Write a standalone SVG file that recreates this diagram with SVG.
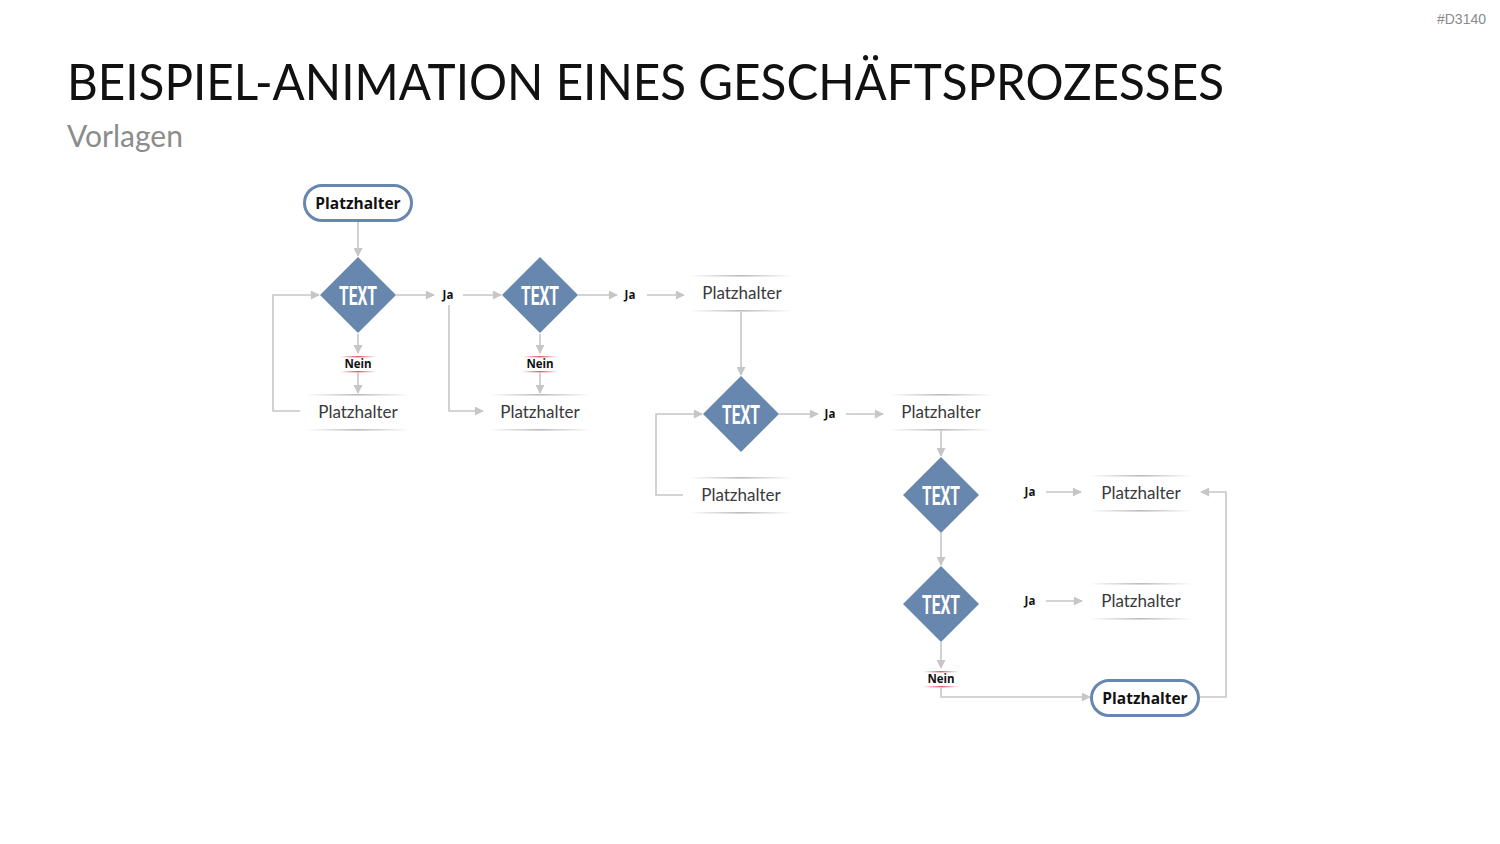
<svg xmlns="http://www.w3.org/2000/svg" width="1500" height="844" viewBox="0 0 1500 844">
<defs>
<style>
.title{font-family:Lato,"Liberation Sans",sans-serif;font-size:50px;fill:#111}
.sub{font-family:Lato,"Liberation Sans",sans-serif;font-size:30px;fill:#8c8c8c}
.ph{font-family:Lato,"Liberation Sans",sans-serif;font-size:17px;fill:#3a3a3a;text-anchor:middle}
.phb{font-family:"Open Sans","Liberation Sans",sans-serif;font-size:15.5px;font-weight:bold;fill:#111;text-anchor:middle}
.dia{fill:#6787ae}
.dt{font-family:Roboto,"Liberation Sans",sans-serif;font-size:25px;font-weight:bold;fill:#fff;text-anchor:middle}
.lbl{font-family:"Open Sans","Liberation Sans",sans-serif;font-size:11.5px;font-weight:bold;fill:#111;text-anchor:middle}
.c{fill:none;stroke:#c6c6c6;stroke-width:1.6}
.box{fill:#fff;stroke:#6787ae;stroke-width:3}
</style>
<marker id="ah" viewBox="0 0 10 10" refX="9" refY="5" markerWidth="10" markerHeight="9" markerUnits="userSpaceOnUse" orient="auto">
<path d="M0,0 L10,5 L0,10 z" fill="#c6c6c6"/>
</marker>
<linearGradient id="gl" x1="0" x2="1" y1="0" y2="0">
<stop offset="0" stop-color="#bbb" stop-opacity="0"/>
<stop offset="0.5" stop-color="#bbb" stop-opacity="1"/>
<stop offset="1" stop-color="#bbb" stop-opacity="0"/>
</linearGradient>
<linearGradient id="rl" x1="0" x2="1" y1="0" y2="0">
<stop offset="0" stop-color="#e05a6a" stop-opacity="0"/>
<stop offset="0.5" stop-color="#e05a6a" stop-opacity="1"/>
<stop offset="1" stop-color="#e05a6a" stop-opacity="0"/>
</linearGradient>
<g id="phlines">
<rect x="-52" y="-18" width="104" height="1.6" fill="url(#gl)"/>
<rect x="-52" y="17" width="104" height="1.6" fill="url(#gl)"/>
</g>
<g id="neinlines">
<rect x="-18" y="-8" width="36" height="1.4" fill="url(#rl)"/>
<rect x="-18" y="7" width="36" height="1.4" fill="url(#rl)"/>
</g>
<path id="dshape" d="M0,-38 L38,0 L0,38 L-38,0 z"/>
</defs>
<rect width="1500" height="844" fill="#fff"/>
<text x="1486" y="24" text-anchor="end" font-family="'Liberation Sans',sans-serif" font-size="14" fill="#8a8a8a">#D3140</text>
<text class="title" x="67" y="100" textLength="1157" lengthAdjust="spacingAndGlyphs">BEISPIEL-ANIMATION EINES GESCHÄFTSPROZESSES</text>
<text class="sub" x="67" y="147">Vorlagen</text>

<g id="connectors">
<path class="c" d="M358,222 V256" marker-end="url(#ah)"/>
<path class="c" d="M396,295 H434" marker-end="url(#ah)"/>
<path class="c" d="M463,295 H501" marker-end="url(#ah)"/>
<path class="c" d="M578,295 H617" marker-end="url(#ah)"/>
<path class="c" d="M647,295 H684" marker-end="url(#ah)"/>
<path class="c" d="M358,334 V353" marker-end="url(#ah)"/>
<path class="c" d="M358,373 V393" marker-end="url(#ah)"/>
<path class="c" d="M540,334 V353" marker-end="url(#ah)"/>
<path class="c" d="M540,373 V393" marker-end="url(#ah)"/>
<path class="c" d="M300,411 H273 V295 H319" marker-end="url(#ah)"/>
<path class="c" d="M449,305 V411 H483" marker-end="url(#ah)"/>
<path class="c" d="M741,312 V375" marker-end="url(#ah)"/>
<path class="c" d="M779,414 H818" marker-end="url(#ah)"/>
<path class="c" d="M846,414 H883" marker-end="url(#ah)"/>
<path class="c" d="M683,495 H656 V414 H702" marker-end="url(#ah)"/>
<path class="c" d="M941,431 V456" marker-end="url(#ah)"/>
<path class="c" d="M1046,492 H1081" marker-end="url(#ah)"/>
<path class="c" d="M941,533 V565" marker-end="url(#ah)"/>
<path class="c" d="M1046,601 H1082" marker-end="url(#ah)"/>
<path class="c" d="M941,642 V668" marker-end="url(#ah)"/>
<path class="c" d="M941,688 V697 H1090" marker-end="url(#ah)"/>
<path class="c" d="M1200,697 H1226 V492 H1201" marker-end="url(#ah)"/>
</g>

<g id="start">
<rect class="box" x="304.5" y="185.5" width="107" height="35" rx="17.5"/>
<text class="phb" x="358" y="209">Platzhalter</text>
</g>

<g id="d1"><use href="#dshape" x="358" y="295" class="dia"/><text class="dt" x="358" y="305" textLength="38" lengthAdjust="spacingAndGlyphs">TEXT</text></g>
<g id="d2"><use href="#dshape" x="540" y="295" class="dia"/><text class="dt" x="540" y="305" textLength="38" lengthAdjust="spacingAndGlyphs">TEXT</text></g>
<g id="d3"><use href="#dshape" x="741" y="414" class="dia"/><text class="dt" x="741" y="424" textLength="38" lengthAdjust="spacingAndGlyphs">TEXT</text></g>
<g id="d4"><use href="#dshape" x="941" y="495" class="dia"/><text class="dt" x="941" y="505" textLength="38" lengthAdjust="spacingAndGlyphs">TEXT</text></g>
<g id="d5"><use href="#dshape" x="941" y="604" class="dia"/><text class="dt" x="941" y="614" textLength="38" lengthAdjust="spacingAndGlyphs">TEXT</text></g>

<g id="ja1"><text class="lbl" x="448" y="299">Ja</text></g>
<g id="ja2"><text class="lbl" x="630" y="299">Ja</text></g>
<g id="ja3"><text class="lbl" x="830" y="418">Ja</text></g>
<g id="ja4"><text class="lbl" x="1030" y="496">Ja</text></g>
<g id="ja5"><text class="lbl" x="1030" y="605">Ja</text></g>

<g id="nein1"><use href="#neinlines" x="358" y="364"/><text class="lbl" x="358" y="368">Nein</text></g>
<g id="nein2"><use href="#neinlines" x="540" y="364"/><text class="lbl" x="540" y="368">Nein</text></g>
<g id="nein3"><use href="#neinlines" x="941" y="679"/><text class="lbl" x="941" y="683">Nein</text></g>

<g id="p1"><use href="#phlines" x="358" y="412"/><text class="ph" x="358" y="418">Platzhalter</text></g>
<g id="p2"><use href="#phlines" x="540" y="412"/><text class="ph" x="540" y="418">Platzhalter</text></g>
<g id="p3"><use href="#phlines" x="741" y="293"/><text class="ph" x="742" y="299">Platzhalter</text></g>
<g id="p4"><use href="#phlines" x="941" y="412"/><text class="ph" x="941" y="418">Platzhalter</text></g>
<g id="p5"><use href="#phlines" x="741" y="495"/><text class="ph" x="741" y="501">Platzhalter</text></g>
<g id="p6"><use href="#phlines" x="1141" y="493"/><text class="ph" x="1141" y="499">Platzhalter</text></g>
<g id="p7"><use href="#phlines" x="1141" y="601"/><text class="ph" x="1141" y="607">Platzhalter</text></g>

<g id="end">
<rect class="box" x="1091.5" y="680.5" width="107" height="35" rx="17.5"/>
<text class="phb" x="1145" y="704">Platzhalter</text>
</g>
</svg>
